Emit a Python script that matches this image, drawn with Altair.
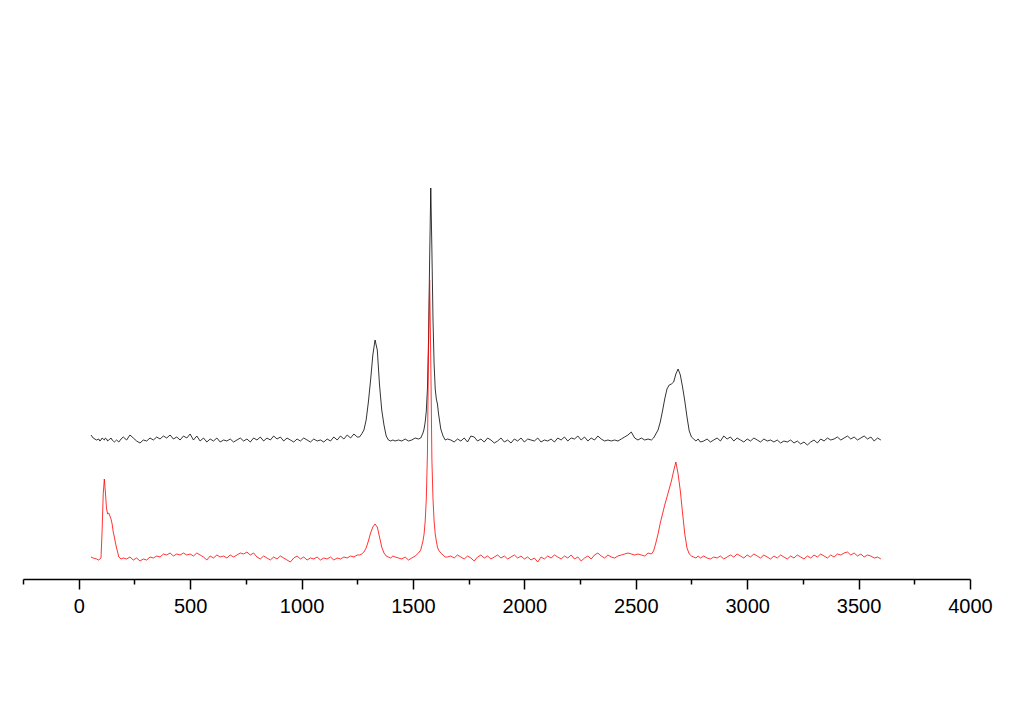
import altair as alt
import pandas as pd

# Raman shift (cm^-1) sample positions, segment by segment
wn_seg1 = [55, 65, 80, 90, 95, 100, 105, 110, 115, 120, 125, 130, 135, 140, 145,
           150, 155, 160, 165, 170, 180, 190, 200]
wn_seg2 = [215, 230, 245, 260, 275, 290, 305, 320, 335, 350,
           365, 380, 395, 410, 425, 440, 455, 470, 485, 500,
           515, 530, 545, 560, 575, 590, 605, 620, 635, 650,
           665, 680, 695, 710, 725, 740, 755, 770, 785, 800,
           815, 830, 845, 860, 875, 890, 905, 920, 935, 950,
           965, 980, 995, 1010, 1025, 1040, 1055, 1070, 1085, 1100,
           1115, 1130, 1145, 1160, 1175, 1190, 1205, 1220, 1235, 1250]
wn_seg3 = [1260, 1270, 1280, 1290, 1300, 1310, 1320, 1330, 1340, 1350,
           1360, 1370, 1380, 1390, 1400, 1410, 1420]
wn_seg4 = [1435, 1450, 1465, 1480, 1495, 1510, 1525]
wn_seg5 = [1535, 1545, 1550, 1555, 1560, 1565, 1570, 1575, 1580, 1585,
           1590, 1595, 1600, 1605, 1610, 1615, 1625, 1635, 1645, 1655]
wn_seg6 = [1670, 1685, 1700, 1715, 1730, 1745, 1760, 1775, 1790, 1805,
           1820, 1835, 1850, 1865, 1880, 1895, 1910, 1925, 1940, 1955,
           1970, 1985, 2000, 2015, 2030, 2045, 2060, 2075, 2090, 2105,
           2120, 2135, 2150, 2165, 2180, 2195, 2210, 2225, 2240, 2255,
           2270, 2285, 2300, 2315, 2330, 2345, 2360, 2375, 2390, 2405,
           2420, 2435, 2450, 2465, 2480, 2495, 2510, 2525, 2540, 2555]
wn_seg7 = [2570, 2580, 2590, 2600, 2610, 2620, 2630, 2640, 2650, 2660,
           2670, 2680, 2690, 2700, 2710, 2720, 2730, 2740, 2750, 2760,
           2770, 2780, 2790]
wn_seg8 = [2805, 2820, 2835, 2850, 2865, 2880, 2895, 2910, 2925, 2940,
           2955, 2970, 2985, 3000, 3015, 3030, 3045, 3060, 3075, 3090,
           3105, 3120, 3135, 3150, 3165, 3180, 3195, 3210, 3225, 3240,
           3255, 3270, 3285, 3300, 3315, 3330, 3345, 3360, 3375, 3390,
           3405, 3420, 3435, 3450, 3465, 3480, 3495, 3510, 3525, 3540,
           3555, 3570, 3585, 3600]

# Upper (black) spectrum, intensity in a.u. (offset trace)
black_seg1 = [144, 141, 139, 140, 138, 139, 141, 140, 139, 141, 140, 138, 139, 140, 141,
              139, 138, 137, 138, 139, 137, 140, 142]
black_seg2 = [139, 144, 141, 138, 136, 139, 138, 141, 139, 142,
              140, 143, 141, 144, 140, 142, 139, 143, 141, 145,
              139, 143, 138, 141, 137, 140, 138, 141, 137, 139,
              138, 140, 137, 139, 141, 138, 140, 137, 141, 139,
              142, 138, 141, 139, 143, 140, 142, 138, 141, 139,
              137, 140, 138, 141, 139, 137, 140, 138, 139, 137,
              140, 138, 142, 139, 143, 140, 144, 141, 145, 142]
black_seg3 = [142, 145, 149, 159, 177, 199, 224, 239, 229, 194,
              169, 154, 143, 139, 138, 139, 138]
black_seg4 = [139, 138, 140, 138, 139, 141, 140]
black_seg5 = [141, 146, 150, 157, 168, 190, 240, 320, 391, 330,
              260, 215, 190, 180, 175, 165, 150, 143, 139, 140]
black_seg6 = [139, 137, 140, 138, 141, 137, 143, 142, 138, 140,
              137, 141, 139, 136, 138, 141, 137, 139, 136, 140,
              138, 141, 137, 140, 139, 138, 141, 137, 139, 138,
              140, 137, 141, 139, 142, 138, 141, 140, 143, 139,
              142, 138, 141, 139, 143, 140, 138, 139, 138, 139,
              138, 140, 142, 144, 147, 141, 139, 141, 139, 140]
black_seg7 = [139, 141, 145, 149, 157, 168, 180, 190, 194, 195,
              197, 205, 210, 204, 192, 178, 162, 148, 142, 140,
              138, 140, 137]
black_seg8 = [138, 140, 137, 139, 141, 138, 143, 140, 142, 138,
              141, 139, 137, 140, 138, 141, 139, 137, 140, 138,
              139, 137, 139, 136, 138, 137, 139, 136, 138, 135,
              137, 134, 137, 139, 136, 140, 138, 141, 139, 140,
              142, 139, 141, 143, 140, 142, 139, 141, 143, 140,
              142, 138, 141, 139]

# Lower (red) spectrum, intensity in a.u.
red_seg1 = [22, 21, 20, 19, 20, 21, 48, 85, 100, 86, 70, 65, 66, 63, 60,
            55, 47, 42, 36, 31, 22, 20, 21]
red_seg2 = [20, 22, 19, 21, 18, 20, 19, 22, 21, 23,
            22, 25, 24, 26, 23, 25, 24, 26, 24, 25,
            23, 26, 24, 22, 19, 23, 21, 24, 22, 23,
            21, 24, 22, 24, 26, 25, 27, 24, 26, 22,
            20, 23, 21, 19, 22, 20, 23, 21, 19, 17,
            21, 23, 20, 22, 19, 21, 20, 22, 19, 21,
            20, 22, 19, 21, 20, 22, 21, 23, 22, 24]
red_seg3 = [24, 25, 27, 31, 38, 46, 52, 55, 52, 42,
            32, 26, 23, 22, 21, 23, 22]
red_seg4 = [21, 20, 22, 19, 21, 23, 26]
red_seg5 = [29, 38, 45, 58, 80, 125, 230, 299, 220, 120,
            80, 58, 45, 38, 32, 29, 26, 24, 22, 22]
red_seg6 = [23, 21, 24, 22, 20, 23, 21, 18, 22, 24,
            21, 23, 20, 22, 24, 21, 23, 20, 22, 24,
            21, 23, 20, 22, 19, 21, 17, 22, 20, 23,
            21, 24, 22, 20, 23, 21, 24, 20, 22, 18,
            21, 23, 20, 24, 26, 23, 21, 24, 22, 21,
            23, 24, 25, 26, 25, 24, 25, 24, 23, 26]
red_seg7 = [25, 28, 36, 45, 56, 65, 74, 82, 90, 98,
            108, 117, 105, 88, 66, 45, 31, 25, 23, 22,
            21, 23, 21]
red_seg8 = [23, 21, 20, 22, 21, 23, 20, 22, 24, 22,
            25, 23, 21, 24, 22, 25, 23, 21, 24, 22,
            20, 23, 21, 24, 22, 20, 23, 21, 24, 22,
            20, 23, 21, 24, 22, 25, 23, 21, 24, 22,
            25, 24, 26, 27, 24, 26, 23, 25, 22, 24,
            23, 21, 22, 20]

major_ticks = [0, 500, 1000, 1500, 2000, 2500, 3000, 3500, 4000]
minor_ticks = [-250, 250, 750, 1250, 1750, 2250, 2750, 3250, 3750]

wavenumber = wn_seg1 + wn_seg2 + wn_seg3 + wn_seg4 + wn_seg5 + wn_seg6 + wn_seg7 + wn_seg8
upper = black_seg1 + black_seg2 + black_seg3 + black_seg4 + black_seg5 + black_seg6 + black_seg7 + black_seg8
lower = red_seg1 + red_seg2 + red_seg3 + red_seg4 + red_seg5 + red_seg6 + red_seg7 + red_seg8
assert len(wavenumber) == len(upper) == len(lower), (len(wavenumber), len(upper), len(lower))

df = pd.DataFrame({"wavenumber": wavenumber, "upper": upper, "lower": lower})

x_scale = alt.Scale(domain=[-250, 4000], nice=False, zero=False)
y_scale = alt.Scale(domain=[0, 529], nice=False, zero=False)

major_axis = alt.Axis(values=major_ticks, orient="bottom", title=None, grid=False,
                      format="d",
                      domainColor="black", domainWidth=1.5, tickColor="black",
                      tickSize=10, tickWidth=1.5, labelFont="Liberation Sans",
                      labelFontSize=20, labelColor="black", labelPadding=7,
                      labelFlush=False, labelOverlap=False)
minor_axis = alt.Axis(values=minor_ticks, orient="bottom", title=None, grid=False,
                      domain=False, labels=False, tickColor="black",
                      tickSize=5, tickWidth=1.5)

base = alt.Chart(df)
upper_line = base.mark_line(color="#000000", strokeWidth=0.8).encode(
    x=alt.X("wavenumber:Q", scale=x_scale, axis=major_axis),
    y=alt.Y("upper:Q", scale=y_scale, axis=None),
)
lower_line = base.mark_line(color="#ff0000", strokeWidth=0.8).encode(
    x=alt.X("wavenumber:Q", scale=x_scale, axis=minor_axis),
    y=alt.Y("lower:Q", scale=y_scale, axis=None),
)

chart = (
    alt.layer(upper_line, lower_line)
    .resolve_axis(x="independent")
    .properties(width=947, height=529,
                padding={"left": 15, "top": 42, "right": 40, "bottom": 100},
                autosize=alt.AutoSizeParams(type="none"),
                background="white")
    .configure_view(stroke=None)
)

chart.save("out.html", embed_options={"renderer": "svg", "actions": False})
